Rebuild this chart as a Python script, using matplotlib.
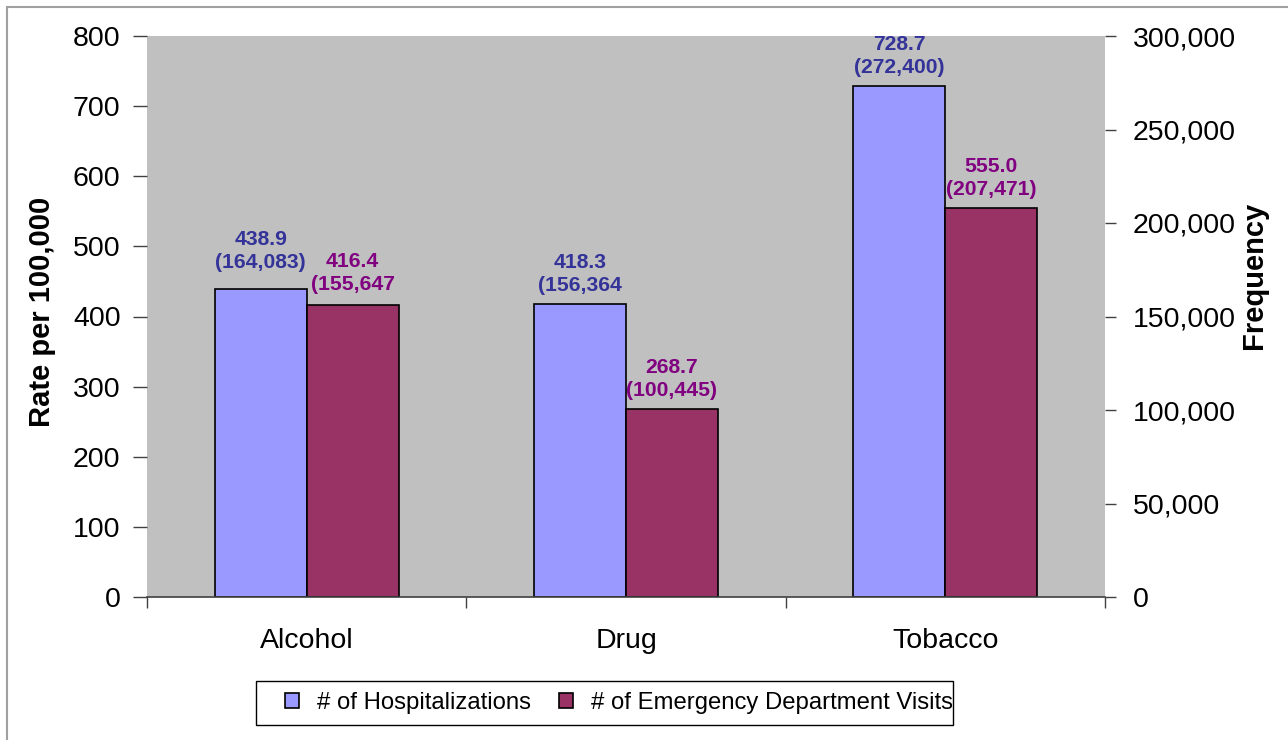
import matplotlib
matplotlib.use("Agg")
import matplotlib.pyplot as plt
import numpy as np
from matplotlib.patches import Rectangle
from matplotlib.ticker import FuncFormatter, FixedLocator

plt.rcParams['font.family'] = ['Liberation Sans', 'DejaVu Sans']

categories = ['Alcohol', 'Drug', 'Tobacco']
hosp_rate = [438.9, 418.3, 728.7]
hosp_count = [164083, 156364, 272400]
ed_rate = [416.4, 268.7, 555.0]
ed_count = [155647, 100445, 207471]
# closing parenthesis shown on each count label
hosp_closed = [True, False, True]
ed_closed = [False, True, True]
series_names = ['# of Hospitalizations', '# of Emergency Department Visits']

W, H = 1288, 740
fig = plt.figure(figsize=(W / 100, H / 100), dpi=100)

# outer chart frame
fig.patches.append(Rectangle((7 / W, -0.05), 1.1, 1 - 7 / H + 0.05,
                             transform=fig.transFigure, fill=False,
                             edgecolor='#a0a0a0', linewidth=1.5))

ax = fig.add_axes([147 / W, 1 - 597 / H, (1105 - 147) / W, (597 - 36) / H])
ax.set_facecolor('#c0c0c0')

x = np.arange(len(categories))
w = 0.288
b1 = ax.bar(x - w / 2, hosp_rate, w, color='#9999ff', edgecolor='black',
            linewidth=1.2, label=series_names[0])
b2 = ax.bar(x + w / 2, ed_rate, w, color='#993366', edgecolor='black',
            linewidth=1.2, label=series_names[1])

ax.set_xlim(-0.5, len(categories) - 0.5)
ax.set_ylim(0, 800)
ax.set_yticks(np.arange(0, 801, 100))
ax.tick_params(axis='y', labelsize=20.5, length=10, width=1, pad=9, color='#404040')
ax.set_xticks(x)
ax.set_xticklabels(categories)
ax.tick_params(axis='x', which='major', length=0, labelsize=20.5, pad=22)
ax.xaxis.set_minor_locator(FixedLocator(np.arange(-0.5, len(categories), 1.0)))
ax.tick_params(axis='x', which='minor', length=8, width=1, color='#404040')
for s in ['top', 'left', 'right']:
    ax.spines[s].set_visible(False)
ax.spines['bottom'].set_color('#404040')
ax.spines['bottom'].set_linewidth(1.2)
ax.set_ylabel('Rate per 100,000', fontsize=21, fontweight='bold')
ax.yaxis.set_label_coords((56 - 147) / (1105 - 147), (597 - 312) / 561)

ax2 = ax.twinx()
ax2.set_ylim(0, 300000)
ax2.set_yticks(np.arange(0, 300001, 50000))
ax2.yaxis.set_major_formatter(FuncFormatter(lambda v, p: f'{int(v):,}'))
ax2.tick_params(axis='y', labelsize=20.5, length=8, width=1, pad=12, color='#404040')
for s in ['top', 'left', 'right', 'bottom']:
    ax2.spines[s].set_visible(False)
ax2.set_ylabel('Frequency', fontsize=21, fontweight='bold')
ax2.yaxis.set_label_coords((1240 - 147) / (1105 - 147), (597 - 275) / 561)

def add_labels(xs, rates, counts, closed, color, lifts):
    for xi, r, c, cl, lift in zip(xs, rates, counts, closed, lifts):
        txt = f'{r:.1f}\n({c:,}' + (')' if cl else '')
        ax.annotate(txt, (xi, r), xytext=(0, 6.5 + lift), textcoords='offset points',
                    ha='center', va='bottom', fontsize=15.2, fontweight='bold',
                    color=color, linespacing=1.25)

# extra lift (points) keeps neighbouring labels from colliding
add_labels(x - w / 2, hosp_rate, hosp_count, hosp_closed, '#333399', [6, 0, 0])
add_labels(x + w / 2, ed_rate, ed_count, ed_closed, '#800080', [1.5, 0, 0])

# legend box and entries
fig.patches.append(Rectangle((256 / W, 1 - 725 / H), (953 - 256) / W, 44 / H,
                             transform=fig.transFigure, facecolor='white',
                             edgecolor='black', linewidth=1.0, zorder=2))
leg = fig.legend(handles=[b1, b2], loc='center left',
                 bbox_to_anchor=(285 / W, 1 - 703 / H), ncol=2, fontsize=17.2,
                 frameon=False, handlelength=0.6, handleheight=0.6,
                 handletextpad=0.75, columnspacing=1.15, borderpad=0,
                 borderaxespad=0)
leg.set_zorder(3)

fig.savefig('out.png', dpi=100)
